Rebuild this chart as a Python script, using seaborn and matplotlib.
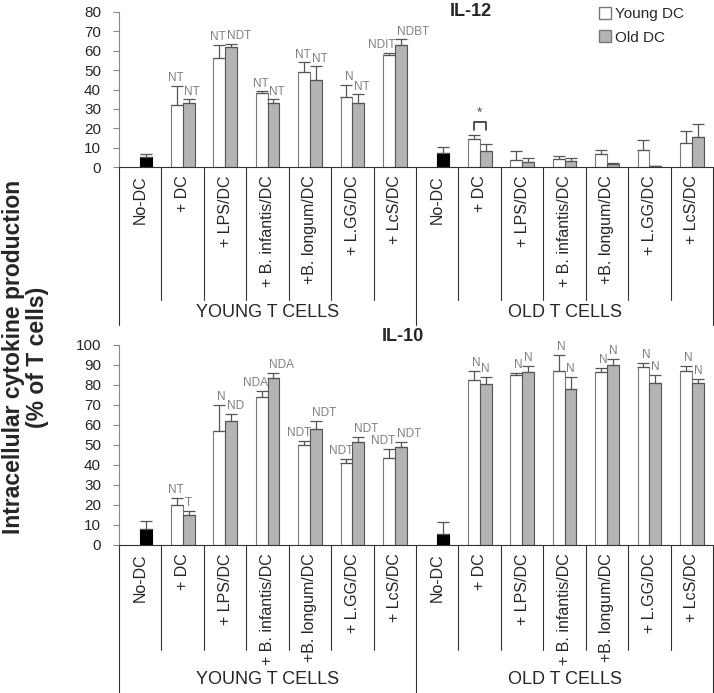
import numpy as np
import pandas as pd
import matplotlib
matplotlib.use('Agg')
import matplotlib.pyplot as plt
from matplotlib.patches import Patch
import seaborn as sns

sns.set_style('white')
plt.rcParams['font.family'] = ['Liberation Sans', 'DejaVu Sans']

# ================= DATA =================
categories = ['No-DC', '+ DC', '+ LPS/DC', '+ B. infantis/DC', '+B. longum/DC', '+ L.GG/DC', '+ LcS/DC']
groups = ['YOUNG T CELLS', 'OLD T CELLS']
dc_levels = ['Young DC', 'Old DC']

# IL-12 (No-DC bar stored in the "old" series, drawn black)
il12_young = [np.nan, 32, 56, 38, 49, 36, 58, np.nan, 14.5, 3.5, 4, 6.5, 9, 12.5]
il12_young_top = [np.nan, 42, 63, 39, 54, 42.5, 59, np.nan, 16.5, 8.5, 5.5, 9, 14, 18.5]
il12_old = [5, 33, 62, 33, 45, 33, 63, 7, 8.5, 2.5, 3, 1.5, 0.5, 15.5]
il12_old_top = [6.5, 35, 63.5, 35, 52, 37.5, 66, 10.5, 12, 4.5, 4.5, 2, 0.5, 22]
il12_young_lab = ['', 'NT', 'NT', 'NT', 'NT', 'N', 'NDIT', '', '', '', '', '', '', '']
il12_old_lab = ['', 'NT', 'NDT', 'NT', 'NT', 'NT', 'NDBT', '', '', '', '', '', '', '']

# IL-10
il10_young = [np.nan, 20, 57, 74, 50, 41, 43.5, np.nan, 82.5, 85, 87, 86.5, 89, 87]
il10_young_top = [np.nan, 23.5, 70, 77, 52, 43, 48, np.nan, 87, 86, 95, 88.5, 91, 89.5]
il10_old = [8, 15, 62, 83.5, 58, 51.5, 49, 5.5, 80.5, 86.5, 78, 90, 81, 81]
il10_old_top = [12, 17, 65.5, 86, 62, 54, 51.5, 11.5, 84, 89.5, 84, 93, 85, 83]
il10_young_lab = ['', 'NT', 'N', 'NDA', 'NDT', 'NDT', 'NDT', '', 'N', 'N', 'N', 'N', 'N', 'N']
il10_old_lab = ['', 'T', 'ND', 'NDA', 'NDT', 'NDT', 'NDT', '', 'N', 'N', 'N', 'N', 'N', 'N']

slot_labels = categories + categories
young_color = 'white'
old_color = '#b4b4b4'
note_color = '#808080'


def build_frame(young, old):
    rows = []
    for i in range(len(young)):
        rows.append({'slot': i, 'dc': 'Young DC', 'value': young[i]})
        rows.append({'slot': i, 'dc': 'Old DC', 'value': old[i]})
    df = pd.DataFrame(rows)
    return df.dropna()


def draw_panel(ax, young, young_top, young_lab, old, old_top, old_lab, ymax, ystep,
               sep_depth, group_depth, group_label_y):
    df = build_frame(young, old)
    sns.barplot(data=df, x='slot', y='value', hue='dc', hue_order=dc_levels,
                order=list(range(len(young))),
                palette={'Young DC': young_color, 'Old DC': old_color},
                width=0.56, gap=0, edgecolor='#555555', linewidth=0.8,
                errorbar=None, legend=False, ax=ax)

    centers = {}
    for patch in ax.patches:
        cx = patch.get_x() + patch.get_width() / 2
        slot = int(round(cx))
        is_young = patch.get_facecolor()[0] > 0.9
        if is_young:
            centers[('y', slot)] = cx
            patch.set_edgecolor('#7a7a7a')
        else:
            centers[('o', slot)] = cx
            if np.isnan(young[slot]):
                patch.set_facecolor('black')
                patch.set_edgecolor('black')

    # upper error bars + significance letters (young letters end at the pair centre,
    # old letters start there, so the two never run into each other)
    for key, vals, tops, labs in [('y', young, young_top, young_lab), ('o', old, old_top, old_lab)]:
        xs, ys, es = [], [], []
        for i in range(len(vals)):
            if np.isnan(vals[i]):
                continue
            xs.append(centers[(key, i)])
            ys.append(vals[i])
            es.append(tops[i] - vals[i])
            if labs[i]:
                if key == 'y':
                    ax.text(i + 0.02, tops[i] + ymax * 0.01, labs[i], ha='right', va='bottom',
                            fontsize=8.5, color=note_color)
                else:
                    ax.text(i + 0.04, tops[i] + ymax * 0.01, labs[i], ha='left', va='bottom',
                            fontsize=8.5, color=note_color)
        ax.errorbar(xs, ys, yerr=[np.zeros(len(es)), es], fmt='none', ecolor='#555555',
                    elinewidth=0.9, capsize=4, capthick=0.9)

    ax.set_xlim(-0.5, len(young) - 0.5)
    ax.set_ylim(0, ymax)
    ax.set_yticks(np.arange(0, ymax + 1, ystep))
    ax.set_xticks(range(len(young)))
    ax.set_xticklabels(slot_labels, rotation=90, fontsize=11.5)
    ax.tick_params(axis='x', length=0, pad=6)
    ax.tick_params(axis='y', length=4, color='#888888', pad=9, labelsize=11, direction='out', left=True)
    ax.set_xlabel('')
    ax.set_ylabel('')
    sns.despine(ax=ax, top=True, right=True)
    ax.spines['left'].set_color('#888888')
    ax.spines['bottom'].set_color('#333333')
    ax.spines['bottom'].set_linewidth(0.8)

    # separators under the axis
    trans = ax.get_xaxis_transform()
    n = len(young)
    for k in range(n - 1):
        if k == n // 2 - 1:
            continue
        ax.plot([k + 0.5, k + 0.5], [0, -sep_depth], transform=trans, color='#333333', lw=0.8, clip_on=False)
    for gx in [-0.5, n / 2 - 0.5, n - 0.5]:
        ax.plot([gx, gx], [0, -group_depth], transform=trans, color='#333333', lw=0.8, clip_on=False)
    for g, name in enumerate(groups):
        ax.text(g * n / 2 + (n / 2 - 1) / 2, -group_label_y, name, transform=trans,
                ha='center', va='center', fontsize=13)
    return centers


fig = plt.figure(figsize=(7.14, 6.93), dpi=100)
ax_top = fig.add_axes([0.1667, 0.759, 0.832, 0.2237])
ax_bot = fig.add_axes([0.1667, 0.2136, 0.832, 0.2886])

c12 = draw_panel(ax_top, il12_young, il12_young_top, il12_young_lab, il12_old, il12_old_top, il12_old_lab,
                 80, 10, 0.86, 1.02, 0.94)
draw_panel(ax_bot, il10_young, il10_young_top, il10_young_lab, il10_old, il10_old_top, il10_old_lab,
           100, 10, 0.525, 0.74, 0.675)

# significance bracket: old T cells, + DC
x1, x2 = c12[('y', 8)], c12[('o', 8)]
ax_top.plot([x1, x1, x2, x2], [19, 23, 23, 19], color='#333333', lw=1.2)
ax_top.text((x1 + x2) / 2, 24.5, '*', ha='center', va='bottom', fontsize=10, color='#555555')

ax_top.text(0.593, 1.0, 'IL-12', transform=ax_top.transAxes, ha='center', va='center',
            fontsize=13, fontweight='bold')
ax_bot.text(0.478, 1.04, 'IL-10', transform=ax_bot.transAxes, ha='center', va='center',
            fontsize=13, fontweight='bold')

handles = [Patch(facecolor=young_color, edgecolor='#777777', label='Young DC'),
           Patch(facecolor=old_color, edgecolor='#777777', label='Old DC')]
ax_top.legend(handles=handles, loc='upper right', bbox_to_anchor=(0.975, 1.12), frameon=False,
              fontsize=11, handlelength=0.8, handleheight=0.8, handletextpad=0.3, labelspacing=0.6)

fig.text(0.036, 0.485, 'Intracellular cytokine production\n(% of T cells)', rotation=90,
         ha='center', va='center', fontsize=16.5, fontweight='bold', multialignment='center',
         linespacing=1.05)

fig.savefig('out.png', dpi=100)
